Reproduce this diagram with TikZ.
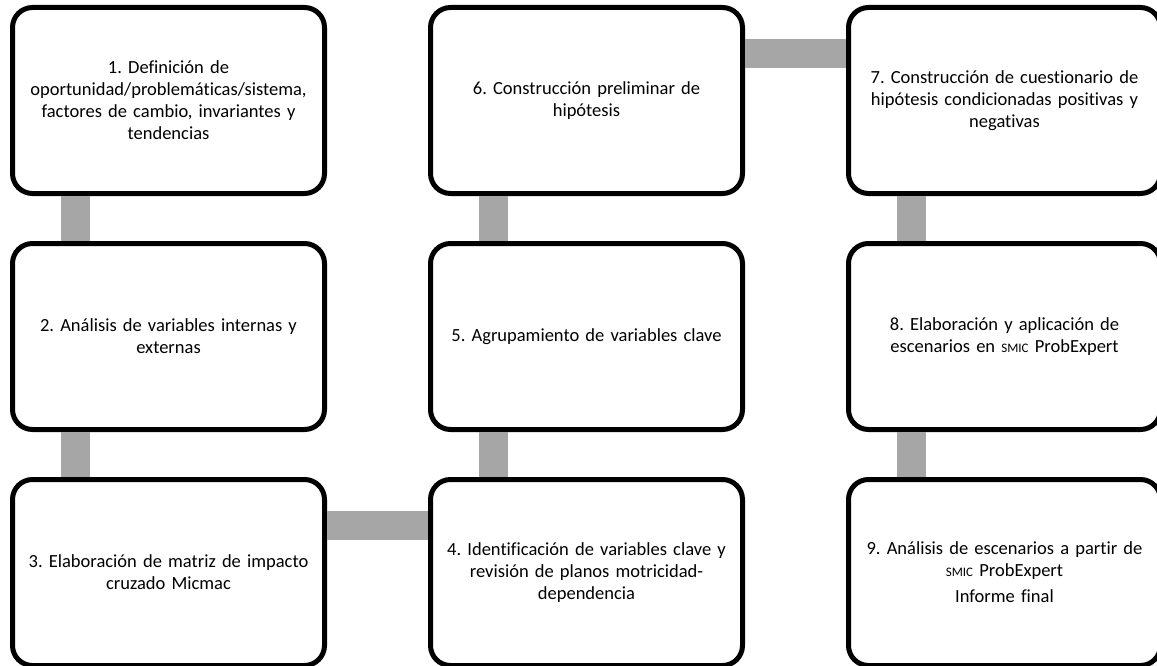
\documentclass[tikz,border=0pt]{standalone}
\usepackage{fontspec}
\setmainfont{Carlito}[Ligatures=NoCommon]
\usepackage{tikz}
\usetikzlibrary{positioning,calc}
\usepackage{xcolor}
\definecolor{enlacegris}{HTML}{A6A6A6}
\newcommand{\smic}{{\fontsize{13}{13}\selectfont SMIC}}
\frenchspacing

\begin{document}
\begin{tikzpicture}[
paso/.style={
  draw,
  line width=5pt,
  rounded corners=20pt,
  minimum width=312pt,
  minimum height=186pt,
  text width=296pt,
  align=center,
  font=\fontsize{18.5}{22}\selectfont
},
enlace/.style={
  draw=enlacegris,
  line width=29pt
},
node distance=45pt and 101pt
]
\useasboundingbox (0,0) rectangle (1157pt,-666pt);

% columna izquierda
\node[paso] at (168.5pt,-100.5pt) (p1)
  {1. Definición de\\oportunidad/problemáticas/sistema,\\factores de cambio, invariantes y\\tendencias};
\node[paso,below=of p1] (p2)
  {2. Análisis de variables internas y\\externas};
\node[paso,below=of p2] (p3)
  {3. Elaboración de matriz de impacto\\cruzado Micmac};

% columna central
\node[paso,right=of p3] (p4)
  {4. Identificación de variables clave y\\revisión de planos motricidad-\\dependencia};
\node[paso,above=of p4] (p5)
  {5. Agrupamiento de variables clave};
\node[paso,above=of p5] (p6)
  {6. Construcción preliminar de\\hipótesis};

% columna derecha
\node[paso,right=of p6] (p7)
  {7. Construcción de cuestionario de\\hipótesis condicionadas positivas y\\negativas};
\node[paso,below=of p7] (p8)
  {8. Elaboración y aplicación de\\escenarios en \smic{} ProbExpert};
\node[paso,below=of p8] (p9)
  {9. Análisis de escenarios a partir de\\\smic{} ProbExpert\\[4pt]Informe final};

\draw[enlace] ([xshift=-93pt]p1.south) -- ([xshift=-93pt]p2.north);
\draw[enlace] ([xshift=-93pt]p2.south) -- ([xshift=-93pt]p3.north);
\draw[enlace] ([yshift=47pt]p3.east) -- ([yshift=47pt]p4.west);
\draw[enlace] ([xshift=-93pt]p4.north) -- ([xshift=-93pt]p5.south);
\draw[enlace] ([xshift=-93pt]p5.north) -- ([xshift=-93pt]p6.south);
\draw[enlace] ([yshift=47pt]p6.east) -- ([yshift=47pt]p7.west);
\draw[enlace] ([xshift=-93pt]p7.south) -- ([xshift=-93pt]p8.north);
\draw[enlace] ([xshift=-93pt]p8.south) -- ([xshift=-93pt]p9.north);
\end{tikzpicture}
\end{document}
